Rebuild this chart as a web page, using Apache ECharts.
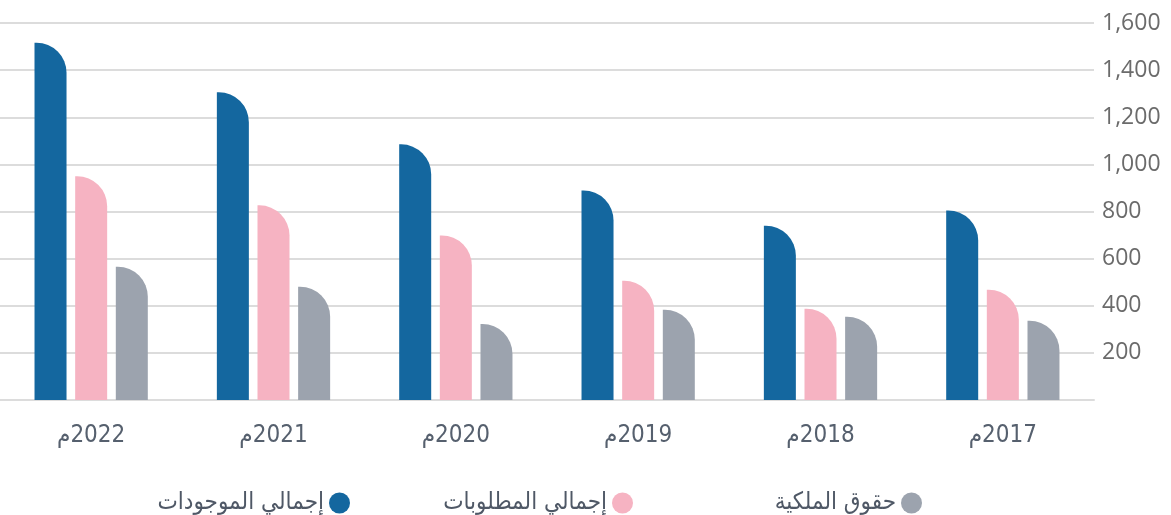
<!DOCTYPE html>
<html>
<head>
<meta charset="utf-8">
<script src="https://cdn.jsdelivr.net/npm/echarts@6/dist/echarts.min.js"></script>
<style>
  html, body { margin: 0; padding: 0; background: #fff; }
  #chart { width: 1171px; height: 515px; }
</style>
</head>
<body>
<div id="chart" dir="rtl"></div>
<script>
// السنوات (من اليسار إلى اليمين)
const years = ['2022م', '2021م', '2020م', '2019م', '2018م', '2017م']
const seriesNames = ['إجمالي الموجودات', 'إجمالي المطلوبات', 'حقوق الملكية']
const assets = [1516, 1306, 1085, 889, 740, 804]
const liabilities = [950, 826, 698, 506, 387, 468]
const equity = [566, 481, 323, 383, 353, 336]
const colors = ['#14679f', '#f6b3c2', '#9ca3ae']

const arFont = '"DejaVu Sans Condensed", "DejaVu Sans", sans-serif'

const chart = echarts.init(document.getElementById('chart'))

const legendRight = [816, 533, 244]

chart.setOption({
  animation: false,
  grid: { left: 0, right: 77, top: 23, bottom: 115 },
  legend: seriesNames.map((name, i) => ({
    data: [name],
    right: legendRight[i],
    top: 486,
    icon: 'circle',
    align: 'right',
    itemWidth: 21,
    itemHeight: 21,
    textStyle: { color: '#4f5866', fontSize: 24, fontFamily: arFont },
  })),
  xAxis: {
    type: 'category',
    data: years,
    axisLine: { lineStyle: { color: '#dcdcdc', width: 2 } },
    axisTick: { show: false },
    axisLabel: { color: '#56606e', fontSize: 24, margin: 24, fontFamily: arFont },
  },
  yAxis: {
    type: 'value',
    position: 'right',
    min: 0,
    max: 1600,
    interval: 200,
    axisLine: { show: false },
    axisTick: { show: false },
    axisLabel: {
      color: '#6b6b6b',
      fontSize: 23,
      margin: 8,
      fontFamily: '"Open Sans", sans-serif',
      showMinLabel: false,
      formatter: (v) => v.toLocaleString('en-US'),
    },
    splitLine: { lineStyle: { color: '#dcdcdc', width: 2 } },
  },
  series: [assets, liabilities, equity].map((data, i) => ({
    name: seriesNames[i],
    type: 'bar',
    data,
    barWidth: 32,
    barGap: '27%',
    itemStyle: { color: colors[i], borderRadius: [0, 30, 0, 0] },
  })),
})
</script>
</body>
</html>
